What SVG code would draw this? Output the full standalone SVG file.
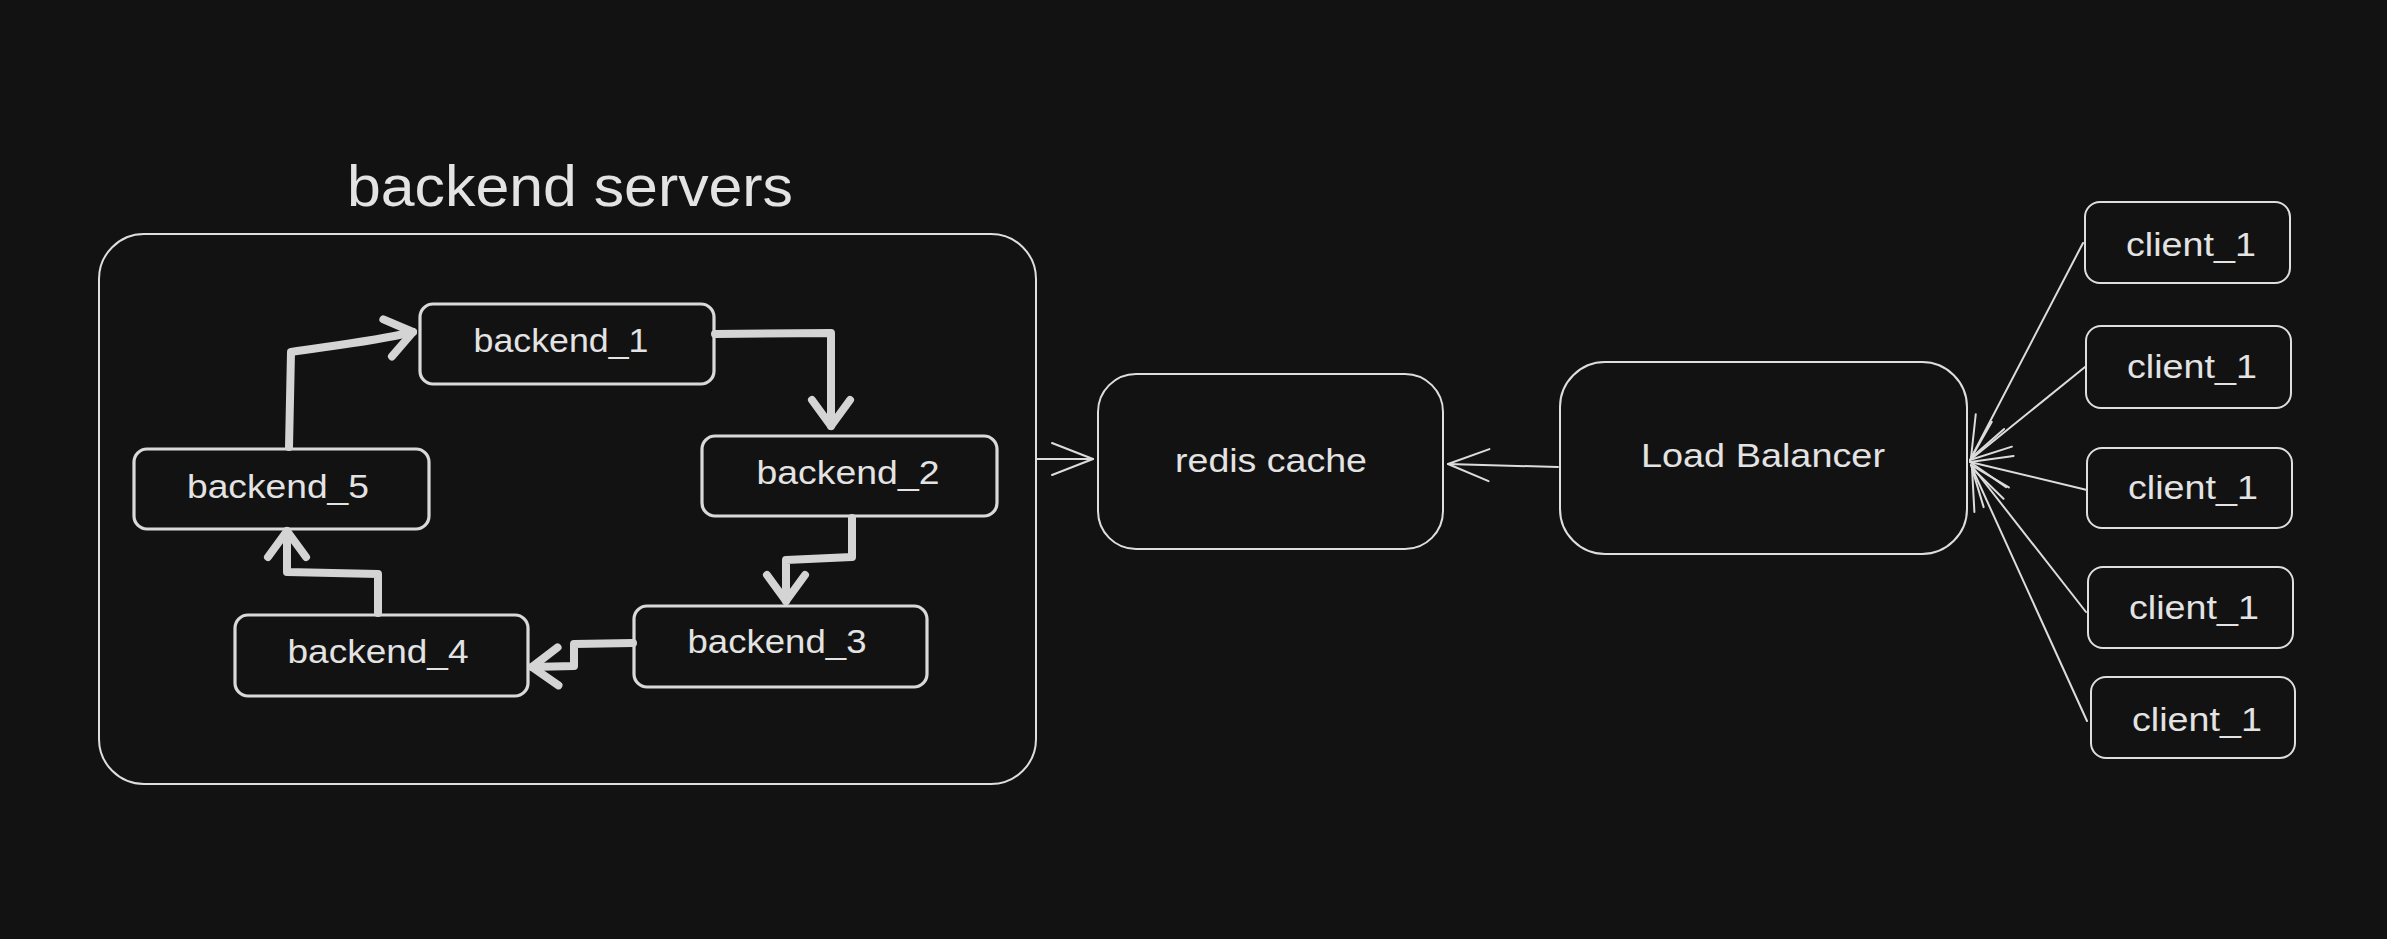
<svg xmlns="http://www.w3.org/2000/svg" width="2387" height="939" viewBox="0 0 2387 939">
  <defs>
    <style>
      .bg { fill: #121212; }
      .label { font-family: "Liberation Sans", "Noto Sans", sans-serif; fill: #e3e3e3; text-anchor: middle; }
      .title { font-size: 58px; }
      .small { font-size: 33px; }
      .mid { font-size: 34px; }
      .box-thin { fill: #121212; stroke: #dedede; stroke-width: 2; }
      .box-b { fill: #121212; stroke: #d9d9d9; stroke-width: 3.2; }
      .thick { fill: none; stroke: #d4d4d4; stroke-width: 8; stroke-linecap: round; stroke-linejoin: round; }
      .thin { fill: none; stroke: #dcdcdc; stroke-width: 2; stroke-linecap: round; }
    </style>
    <marker id="headThick" markerUnits="userSpaceOnUse" markerWidth="10" markerHeight="10" refX="0" refY="0" orient="auto" overflow="visible">
      <path d="M -26 -19 L 0 0 L -26 19" fill="none" stroke="#d4d4d4" stroke-width="8" stroke-linecap="round" stroke-linejoin="round"/>
    </marker>
    <marker id="headThin" markerUnits="userSpaceOnUse" markerWidth="10" markerHeight="10" refX="0" refY="0" orient="auto" overflow="visible">
      <path d="M -41 -16 L 0 0 L -41 16" fill="none" stroke="#dcdcdc" stroke-width="2" stroke-linecap="round" stroke-linejoin="round"/>
    </marker>
  </defs>

  <rect class="bg" x="0" y="0" width="2387" height="939"/>

  <g id="backend-servers">
    <rect class="box-thin" x="99" y="234" width="937" height="550" rx="45" ry="45"/>
    <text class="label title" x="570" y="206" textLength="446" lengthAdjust="spacingAndGlyphs">backend servers</text>
  </g>

  <g id="backend_1">
    <rect class="box-b" x="420" y="304" width="294" height="80" rx="13" ry="13"/>
    <text class="label small" x="561" y="352" textLength="175" lengthAdjust="spacingAndGlyphs">backend_1</text>
  </g>
  <g id="backend_2">
    <rect class="box-b" x="702" y="436" width="295" height="80" rx="13" ry="13"/>
    <text class="label small" x="848" y="484" textLength="183" lengthAdjust="spacingAndGlyphs">backend_2</text>
  </g>
  <g id="backend_3">
    <rect class="box-b" x="634" y="606" width="293" height="81" rx="13" ry="13"/>
    <text class="label small" x="777" y="653" textLength="179" lengthAdjust="spacingAndGlyphs">backend_3</text>
  </g>
  <g id="backend_4">
    <rect class="box-b" x="235" y="615" width="293" height="81" rx="13" ry="13"/>
    <text class="label small" x="378" y="663" textLength="181" lengthAdjust="spacingAndGlyphs">backend_4</text>
  </g>
  <g id="backend_5">
    <rect class="box-b" x="134" y="449" width="295" height="80" rx="13" ry="13"/>
    <text class="label small" x="278" y="498" textLength="182" lengthAdjust="spacingAndGlyphs">backend_5</text>
  </g>

  <g id="redis-cache">
    <rect class="box-thin" x="1098" y="374" width="345" height="175" rx="38" ry="38"/>
    <text class="label mid" x="1271" y="472" textLength="192" lengthAdjust="spacingAndGlyphs">redis cache</text>
  </g>

  <g id="load-balancer">
    <rect class="box-thin" x="1560" y="362" width="407" height="192" rx="45" ry="45"/>
    <text class="label mid" x="1763" y="467" textLength="244" lengthAdjust="spacingAndGlyphs">Load Balancer</text>
  </g>

  <g id="client_1a">
    <rect class="box-thin" x="2085" y="202" width="205" height="81" rx="15" ry="15"/>
    <text class="label small" x="2191" y="256" textLength="130" lengthAdjust="spacingAndGlyphs">client_1</text>
  </g>
  <g id="client_1b">
    <rect class="box-thin" x="2086" y="326" width="205" height="82" rx="15" ry="15"/>
    <text class="label small" x="2192" y="378" textLength="130" lengthAdjust="spacingAndGlyphs">client_1</text>
  </g>
  <g id="client_1c">
    <rect class="box-thin" x="2087" y="448" width="205" height="80" rx="15" ry="15"/>
    <text class="label small" x="2193" y="499" textLength="130" lengthAdjust="spacingAndGlyphs">client_1</text>
  </g>
  <g id="client_1d">
    <rect class="box-thin" x="2088" y="567" width="205" height="81" rx="15" ry="15"/>
    <text class="label small" x="2194" y="619" textLength="130" lengthAdjust="spacingAndGlyphs">client_1</text>
  </g>
  <g id="client_1e">
    <rect class="box-thin" x="2091" y="677" width="204" height="81" rx="15" ry="15"/>
    <text class="label small" x="2197" y="731" textLength="130" lengthAdjust="spacingAndGlyphs">client_1</text>
  </g>

  <g id="connectors">
    <path class="thick" d="M 715 334 L 831 333 L 831 426" marker-end="url(#headThick)"/>
    <path class="thick" d="M 852 518 L 852 557 L 786 560 L 786 601" marker-end="url(#headThick)"/>
    <path class="thick" d="M 633 643 L 574 644 L 574 666 L 532 667" marker-end="url(#headThick)"/>
    <path class="thick" d="M 378 613 L 378 574 L 287 572 L 287 531" marker-end="url(#headThick)"/>
    <path class="thick" d="M 289 447 L 291 352 C 330 346 370 342 413 332" marker-end="url(#headThick)"/>

    <path class="thin" d="M 1037 459 L 1093 459" marker-end="url(#headThin)"/>
    <path class="thin" d="M 1558 467 L 1448 464" marker-end="url(#headThin)"/>

    <path class="thin" d="M 2083 243 L 1971 458" marker-end="url(#headThin)"/>
    <path class="thin" d="M 2085 367 L 1970 460" marker-end="url(#headThin)"/>
    <path class="thin" d="M 2087 490 L 1970 462" marker-end="url(#headThin)"/>
    <path class="thin" d="M 2086 612 L 1971 465" marker-end="url(#headThin)"/>
    <path class="thin" d="M 2087 721 L 1972 468" marker-end="url(#headThin)"/>
  </g>
</svg>
